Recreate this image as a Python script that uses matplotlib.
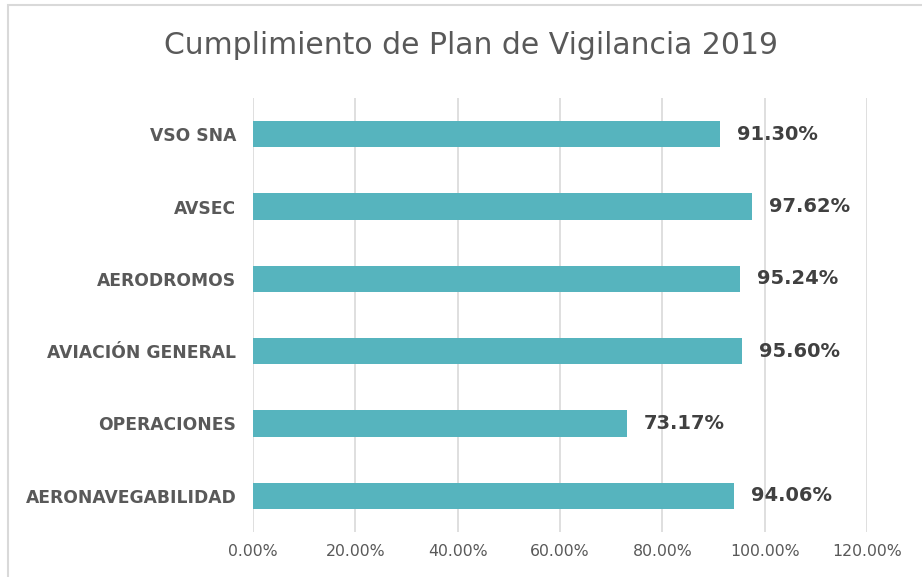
import matplotlib.pyplot as plt
from matplotlib.patches import Rectangle
from matplotlib.ticker import FuncFormatter

# data, bottom to top as in the chart
categories = ['AERONAVEGABILIDAD', 'OPERACIONES', 'AVIACIÓN GENERAL',
              'AERODROMOS', 'AVSEC', 'VSO SNA']
values = [94.06, 73.17, 95.60, 95.24, 97.62, 91.30]
xticks = [0, 20, 40, 60, 80, 100, 120]

plt.rcParams['font.family'] = ['DejaVu Sans']

fig = plt.figure(figsize=(9.22, 5.77), dpi=100)
ax = fig.add_axes([253/922, 1 - 532/577, 614/922, 434/577])

bar_color = '#56B4BE'
ax.barh(range(len(categories)), values, height=0.36, color=bar_color, zorder=3)

for i, v in enumerate(values):
    ax.text(v + 3.2, i, f'{v:.2f}%', va='center', ha='left',
            fontsize=14, fontweight='bold', color='#404040')

ax.set_xlim(0, 120)
ax.set_ylim(-0.5, len(categories) - 0.5)
ax.set_xticks(xticks)
ax.xaxis.set_major_formatter(FuncFormatter(lambda x, p: f'{x:.2f}%'))
ax.set_yticks(range(len(categories)))
ax.set_yticklabels(categories, fontsize=12.3, fontweight='bold', color='#595959')
ax.tick_params(axis='x', labelsize=11.3, colors='#595959', length=0, pad=9)
ax.tick_params(axis='y', length=0, pad=12)
ax.grid(axis='x', color='#D9D9D9', linewidth=1.2, zorder=0)
for s in ax.spines.values():
    s.set_visible(False)

fig.text(471/922, 1 - 46/577, 'Cumplimiento de Plan de Vigilancia 2019',
         ha='center', va='center', fontsize=21.5, color='#595959')

# light border around the chart area
fig.patches.append(Rectangle((8/922, -0.01), 920/922, 1 - 5/577 + 0.01,
                             transform=fig.transFigure, fill=False,
                             edgecolor='#D9D9D9', linewidth=1.5))

fig.savefig('out.png', dpi=100)
